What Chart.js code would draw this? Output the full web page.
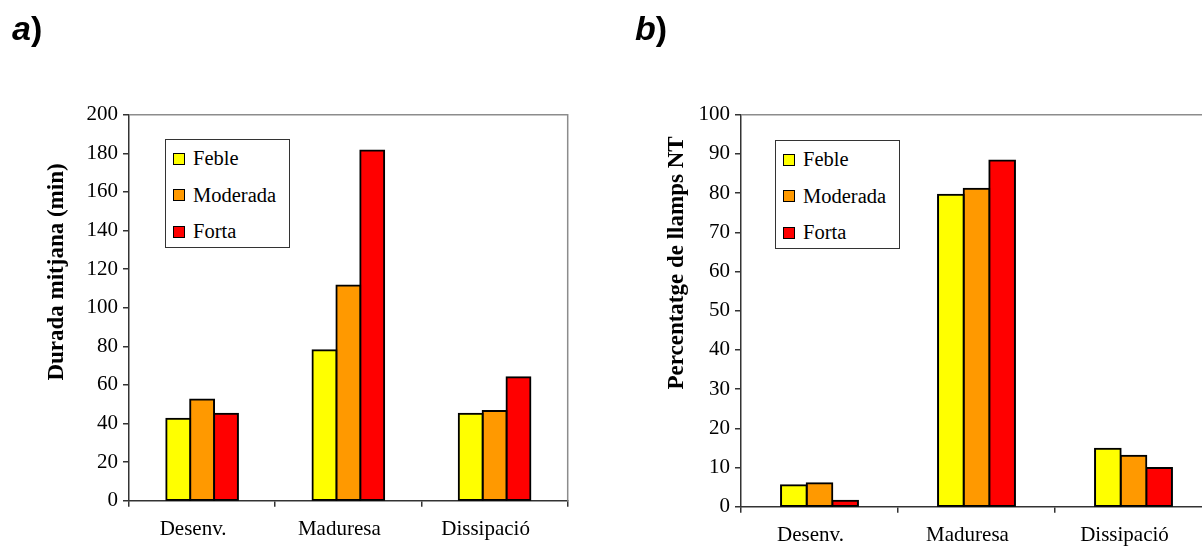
<!DOCTYPE html>
<html>
<head>
<meta charset="utf-8">
<script src="https://cdn.jsdelivr.net/npm/chart.js@4.4.1/dist/chart.umd.min.js"></script>
<style>
  html, body { margin: 0; padding: 0; background: #fff; overflow: hidden; }
  #wrap { position: relative; width: 1202px; height: 546px; overflow: hidden; }
  canvas { position: absolute; top: 0; }
  #chartA { left: 0; }
  #chartB { left: 600px; }
  .panel { position: absolute; top: 11px; font-family: "Liberation Sans", Arial, sans-serif;
           font-weight: bold; font-size: 34px; line-height: 34px; color: #000; }
  .legend { position: absolute; box-sizing: border-box; border: 1px solid #333; background: #fff;
            font-family: "Liberation Serif", "Times New Roman", serif; font-size: 20.5px; color: #000; }
  .legend .item { position: absolute; left: 7px; height: 24px; display: flex; align-items: center; white-space: nowrap; }
  .legend .swatch { box-sizing: border-box; width: 12px; height: 12px; border: 1.5px solid #000; margin-right: 8px; }
</style>
</head>
<body>
<div id="wrap">
  <canvas id="chartA" width="600" height="546"></canvas>
  <canvas id="chartB" width="620" height="546"></canvas>
  <div class="panel" style="left:12px;"><i>a</i>)</div>
  <div class="panel" style="left:635px;"><i>b</i>)</div>
  <div class="legend" id="legendA" style="left:165px; top:139px; width:125px; height:109px;"></div>
  <div class="legend" id="legendB" style="left:775px; top:140px; width:125px; height:109px;"></div>
</div>
<script>
// Storm life-cycle stages and intensity classes
const categories = ['Desenv.', 'Maduresa', 'Dissipació'];
const seriesNames = ['Feble', 'Moderada', 'Forta'];
const seriesColors = ['#FFFF00', '#FF9900', '#FF0000'];

// a) mean duration (min)
const durationFeble = [42.5, 78, 45];
const durationModerada = [52.5, 111.5, 46.5];
const durationForta = [45, 181.5, 64];

// b) percentage of NT flashes
const ntFeble = [5.5, 79.6, 14.8];
const ntModerada = [6, 81.1, 13];
const ntForta = [1.5, 88.3, 9.9];

// y-axis ranges
const durationAxis = { max: 200, step: 20 };
const ntAxis = { max: 100, step: 10 };

const axisTitles = ['Durada mitjana (min)', 'Percentatge de llamps NT'];

const serif = '"Liberation Serif", "Times New Roman", serif';
const axisColor = '#333';

function datasets(values) {
  return values.map((v, i) => ({
    label: seriesNames[i],
    data: v,
    backgroundColor: seriesColors[i],
    borderColor: '#000',
    borderWidth: 2,
    borderSkipped: false,
    inflateAmount: 1,
    barPercentage: 1,
    categoryPercentage: 0.49
  }));
}

// gray frame on top and right of the plot area
const framePlugin = {
  id: 'frame',
  beforeDatasetsDraw(chart) {
    const { ctx, chartArea: a } = chart;
    ctx.save();
    ctx.strokeStyle = '#8c8c8c';
    ctx.lineWidth = 1.5;
    ctx.beginPath();
    ctx.moveTo(a.left, a.top);
    ctx.lineTo(a.right, a.top);
    ctx.lineTo(a.right, a.bottom);
    ctx.stroke();
    ctx.restore();
  }
};

// rotated, bold y-axis title
const yTitlePlugin = {
  id: 'yTitle',
  afterDraw(chart, args, opts) {
    const ctx = chart.ctx;
    ctx.save();
    ctx.font = 'bold 23px ' + serif;
    ctx.fillStyle = '#000';
    ctx.textAlign = 'center';
    ctx.textBaseline = 'alphabetic';
    ctx.translate(opts.x, opts.y);
    ctx.rotate(-Math.PI / 2);
    ctx.fillText(opts.text, 0, 0);
    ctx.restore();
  }
};

function makeChart(id, values, axis, layout) {
  return new Chart(document.getElementById(id), {
    type: 'bar',
    data: { labels: categories, datasets: datasets(values) },
    plugins: [framePlugin, yTitlePlugin],
    options: {
      responsive: false,
      animation: false,
      devicePixelRatio: 1,
      layout: { padding: { top: layout.top, right: layout.right, bottom: 0, left: 0 } },
      plugins: {
        legend: { display: false },
        tooltip: { enabled: false },
        yTitle: { text: layout.title, x: layout.titleX, y: layout.titleY }
      },
      scales: {
        x: {
          grid: { drawOnChartArea: false, drawTicks: true, tickLength: 6, color: axisColor, lineWidth: 1.5, offset: true },
          border: { display: true, color: axisColor, width: 1.5 },
          ticks: { color: '#000', font: { family: serif, size: 21 }, padding: 10, labelOffset: -9, maxRotation: 0, autoSkip: false },
          afterFit(s) { s.height = layout.xAxisHeight; }
        },
        y: {
          min: 0,
          max: axis.max,
          grid: { drawOnChartArea: false, drawTicks: true, tickLength: 6, color: axisColor, lineWidth: 1.5 },
          border: { display: true, color: axisColor, width: 1.5 },
          ticks: { stepSize: axis.step, color: '#000', font: { family: serif, size: 21 }, padding: 5 },
          afterFit(s) { s.width = layout.yAxisWidth; }
        }
      }
    }
  });
}

makeChart('chartA', [durationFeble, durationModerada, durationForta], durationAxis, {
  top: 114.7, right: 32.3, xAxisHeight: 45.3, yAxisWidth: 129,
  title: axisTitles[0], titleX: 63, titleY: 272
});

makeChart('chartB', [ntFeble, ntModerada, ntForta], ntAxis, {
  top: 114.7, right: 8, xAxisHeight: 39.3, yAxisWidth: 141,
  title: axisTitles[1], titleX: 83, titleY: 263
});

// legends built from the series
function buildLegend(id) {
  const box = document.getElementById(id);
  const centers = [18.5, 55, 91.5];
  seriesNames.forEach((name, i) => {
    const item = document.createElement('div');
    item.className = 'item';
    item.style.top = (centers[i] - 12) + 'px';
    const sw = document.createElement('span');
    sw.className = 'swatch';
    sw.style.background = seriesColors[i];
    const t = document.createElement('span');
    t.textContent = name;
    item.appendChild(sw);
    item.appendChild(t);
    box.appendChild(item);
  });
}
buildLegend('legendA');
buildLegend('legendB');
</script>
</body>
</html>
